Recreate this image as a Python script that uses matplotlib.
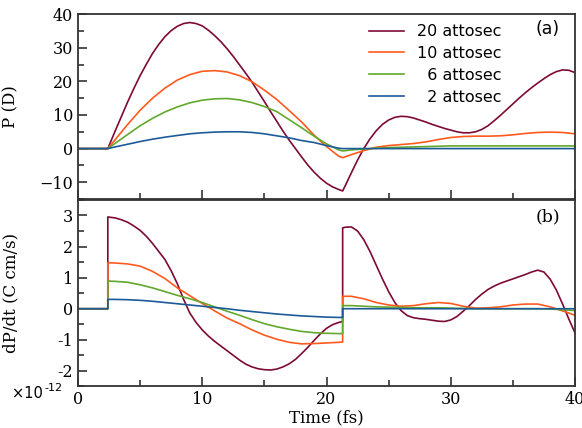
import numpy as np
import matplotlib
matplotlib.use('Agg')
import matplotlib.pyplot as plt
from matplotlib.ticker import MultipleLocator, FixedLocator, FixedFormatter

# time grids (fs); pulse edges at 2.4 fs and 21.3 fs
t_p = [0, 2.4] + list(range(3, 22)) + [21.3] + list(range(22, 41))
t_p = sorted(t_p)
t_v = [0, 2.4, 2.4] + list(range(3, 22)) + [21.3, 21.3] + list(range(22, 41))
# finer grid for the 20 attosec curve
half1 = list(np.arange(3, 21.01, 0.5))
half2 = list(np.arange(21.5, 40.01, 0.5))
t_p20 = [0, 2.4] + half1 + [21.3] + half2
t_v20 = [0, 2.4, 2.4] + half1 + [21.3, 21.3] + half2

labels = ['20 attosec', '10 attosec', '  6 attosec', '  2 attosec']
colors = ['#7d0a36', '#ff5a1e', '#62a82c', '#1c5a99']

# polarization P (D)
p20 = [0, 0,
       5.3, 9.6, 13.9, 17.9, 21.7, 25.1, 28.3, 31.0, 33.3, 35.1,
       36.4, 37.2, 37.5, 37.2, 36.5, 35.2, 33.6, 31.8, 29.7, 27.4,
       24.9, 22.4, 19.8, 16.9, 14.0, 11.0, 8.1, 5.2, 2.5, 0.0,
       -2.5, -4.9, -7.0, -8.8, -10.3, -11.4, -12.2,
       -12.6,
       -11.1, -7.2, -3.4, 0.0, 2.9, 5.3, 7.2, 8.5, 9.3, 9.6,
       9.5, 9.1, 8.5, 7.9, 7.2, 6.6, 6.0, 5.5, 5.0, 4.7,
       4.7, 5.0, 5.7, 6.8, 8.3, 9.9, 11.6, 13.3, 15.0, 16.6,
       18.1, 19.5, 20.8, 22.0, 22.9, 23.4, 23.3, 22.6]
p10 = [0, 0, 2.7, 7.2, 11.4, 15.0, 18.0, 20.4, 22.0, 23.0, 23.2, 22.8, 21.7,
       19.9, 17.4, 14.6, 11.3, 7.9, 4.0, 0.6, -2.3, -2.7,
       -1.8, -0.6, 0.4, 0.9, 1.2, 1.5, 2.0, 2.7, 3.3, 3.6, 3.7, 3.7, 3.8,
       4.1, 4.5, 4.8, 4.9, 4.8, 4.4]
p6 = [0, 0, 1.6, 4.2, 6.8, 9.0, 10.9, 12.4, 13.6, 14.4, 14.8, 14.9, 14.5,
      13.7, 12.5, 11.0, 8.6, 6.2, 3.7, 1.4, -0.4, -0.7,
      -0.4, -0.1, 0.1, 0.3, 0.4, 0.5, 0.6, 0.7, 0.8, 0.8, 0.8, 0.8, 0.8,
      0.8, 0.8, 0.8, 0.8, 0.8, 0.8]
p2 = [0, 0, 0.5, 1.3, 2.1, 2.8, 3.4, 3.9, 4.4, 4.7, 4.9, 5.0, 5.0,
      4.8, 4.4, 3.8, 3.2, 2.4, 1.8, 0.9, 0.1, 0.0,
      0, 0, 0, 0, 0, 0, 0, 0, 0, 0, 0, 0, 0, 0, 0, 0, 0, 0, 0]

# dP/dt (1e-12 C cm/s)
v20 = [0, 0, 2.95,
       2.92, 2.86, 2.78, 2.66, 2.52, 2.33, 2.10, 1.84, 1.58, 1.22,
       0.80, 0.30, -0.14, -0.44, -0.68, -0.88, -1.05, -1.20, -1.35, -1.50,
       -1.65, -1.78, -1.87, -1.93, -1.96, -1.97, -1.94, -1.87, -1.77, -1.63,
       -1.44, -1.24, -1.02, -0.81, -0.63, -0.51, -0.44,
       -0.41, 2.60,
       2.62, 2.63, 2.50, 2.22, 1.84, 1.40, 0.96, 0.55, 0.20, -0.06,
       -0.22, -0.29, -0.32, -0.34, -0.37, -0.40, -0.41, -0.36, -0.25, -0.08,
       0.10, 0.30, 0.47, 0.62, 0.73, 0.82, 0.89, 0.96, 1.03, 1.10,
       1.18, 1.24, 1.18, 0.95, 0.60, 0.15, -0.33, -0.78]
v10 = [0, 0, 1.48, 1.47, 1.44, 1.37, 1.20, 0.97, 0.67, 0.42, 0.17, -0.07,
       -0.30, -0.48, -0.68, -0.85, -0.98, -1.08, -1.13, -1.12, -1.10, -1.08,
       -1.07, 0.40, 0.40, 0.32, 0.20, 0.12, 0.08, 0.10, 0.16, 0.20, 0.17,
       0.08, 0.02, 0.03, 0.06, 0.12, 0.15, 0.15, 0.06, -0.07, -0.21]
v6 = [0, 0, 0.89, 0.88, 0.85, 0.77, 0.67, 0.55, 0.43, 0.32, 0.20, 0.06,
      -0.08, -0.21, -0.35, -0.48, -0.58, -0.66, -0.73, -0.77, -0.79, -0.80,
      -0.80, 0.10, 0.10, 0.08, 0.06, 0.05, 0.04, 0.03, 0.03, 0.03, 0.02,
      0.01, 0.0, 0.0, 0.0, 0.0, 0.0, 0.0, -0.01, -0.03, -0.06]
v2 = [0, 0, 0.30, 0.30, 0.29, 0.27, 0.24, 0.20, 0.16, 0.12, 0.08, 0.04,
      0.0, -0.05, -0.09, -0.13, -0.17, -0.20, -0.23, -0.25, -0.27, -0.28,
      -0.28, 0.0, 0, 0, 0, 0, 0, 0, 0, 0, 0, 0, 0, 0, 0, 0, 0, 0, 0, 0, 0]

P = [(t_p20, p20), (t_p, p10), (t_p, p6), (t_p, p2)]
V = [(t_v20, v20), (t_v, v10), (t_v, v6), (t_v, v2)]

plt.rcParams['font.family'] = 'DejaVu Serif'
plt.rcParams['axes.edgecolor'] = '#333333'

fig = plt.figure(figsize=(5.82, 4.28), dpi=100)
ax1 = fig.add_axes([0.134, 0.535, 0.854, 0.432])
ax2 = fig.add_axes([0.134, 0.097, 0.854, 0.436])

for i in range(4):
    ax1.plot(P[i][0], P[i][1], color=colors[i], lw=1.2, label=labels[i])
    ax2.plot(V[i][0], V[i][1], color=colors[i], lw=1.2)

for ax in (ax1, ax2):
    ax.set_xlim(0, 40)
    ax.xaxis.set_major_locator(MultipleLocator(10))
    ax.xaxis.set_minor_locator(MultipleLocator(5))
    ax.tick_params(which='both', direction='in', top=False, right=False,
                   labelsize=11.5, color='#222222')
    ax.tick_params(which='major', length=6.5, width=1.1)
    ax.tick_params(which='minor', length=4, width=1.1)
    for s in ax.spines.values():
        s.set_linewidth(1.3)

ax1.set_ylim(-15, 40)
ax1.yaxis.set_major_locator(MultipleLocator(10))
ax1.yaxis.set_minor_locator(MultipleLocator(5))
ax1.tick_params(labelbottom=False)
ax1.set_ylabel('P (D)', fontsize=12)
ax1.yaxis.set_label_coords(-0.117, 0.5)

ax2.set_ylim(-2.5, 3.5)
yt = [-2, -1, 0, 1, 2, 3]
ax2.yaxis.set_major_locator(FixedLocator(yt))
ax2.yaxis.set_major_formatter(FixedFormatter([str(v) for v in yt]))
ax2.yaxis.set_minor_locator(MultipleLocator(0.5))
ax2.set_ylabel('dP/dt (C cm/s)', fontsize=12)
ax2.yaxis.set_label_coords(-0.117, 0.5)
ax2.set_xlabel('Time (fs)', fontsize=12, labelpad=1)

leg = ax1.legend(loc='upper left', bbox_to_anchor=(0.563, 1.005), frameon=False,
                 prop={'family': 'DejaVu Sans', 'size': 11.5},
                 handlelength=2.2, labelspacing=0.42, borderaxespad=0.3)

ax1.text(0.97, 0.92, '(a)', transform=ax1.transAxes, ha='right', va='center',
         fontsize=12.5, family='DejaVu Sans')
ax2.text(0.97, 0.91, '(b)', transform=ax2.transAxes, ha='right', va='center',
         fontsize=12.5)

fig.text(12 / 582, 1 - 398 / 428, '\u00d710', fontsize=10.5, family='DejaVu Sans')
fig.text(44 / 582, 1 - 391 / 428, '-12', fontsize=8, family='DejaVu Sans')

fig.savefig('out.png', dpi=100)
